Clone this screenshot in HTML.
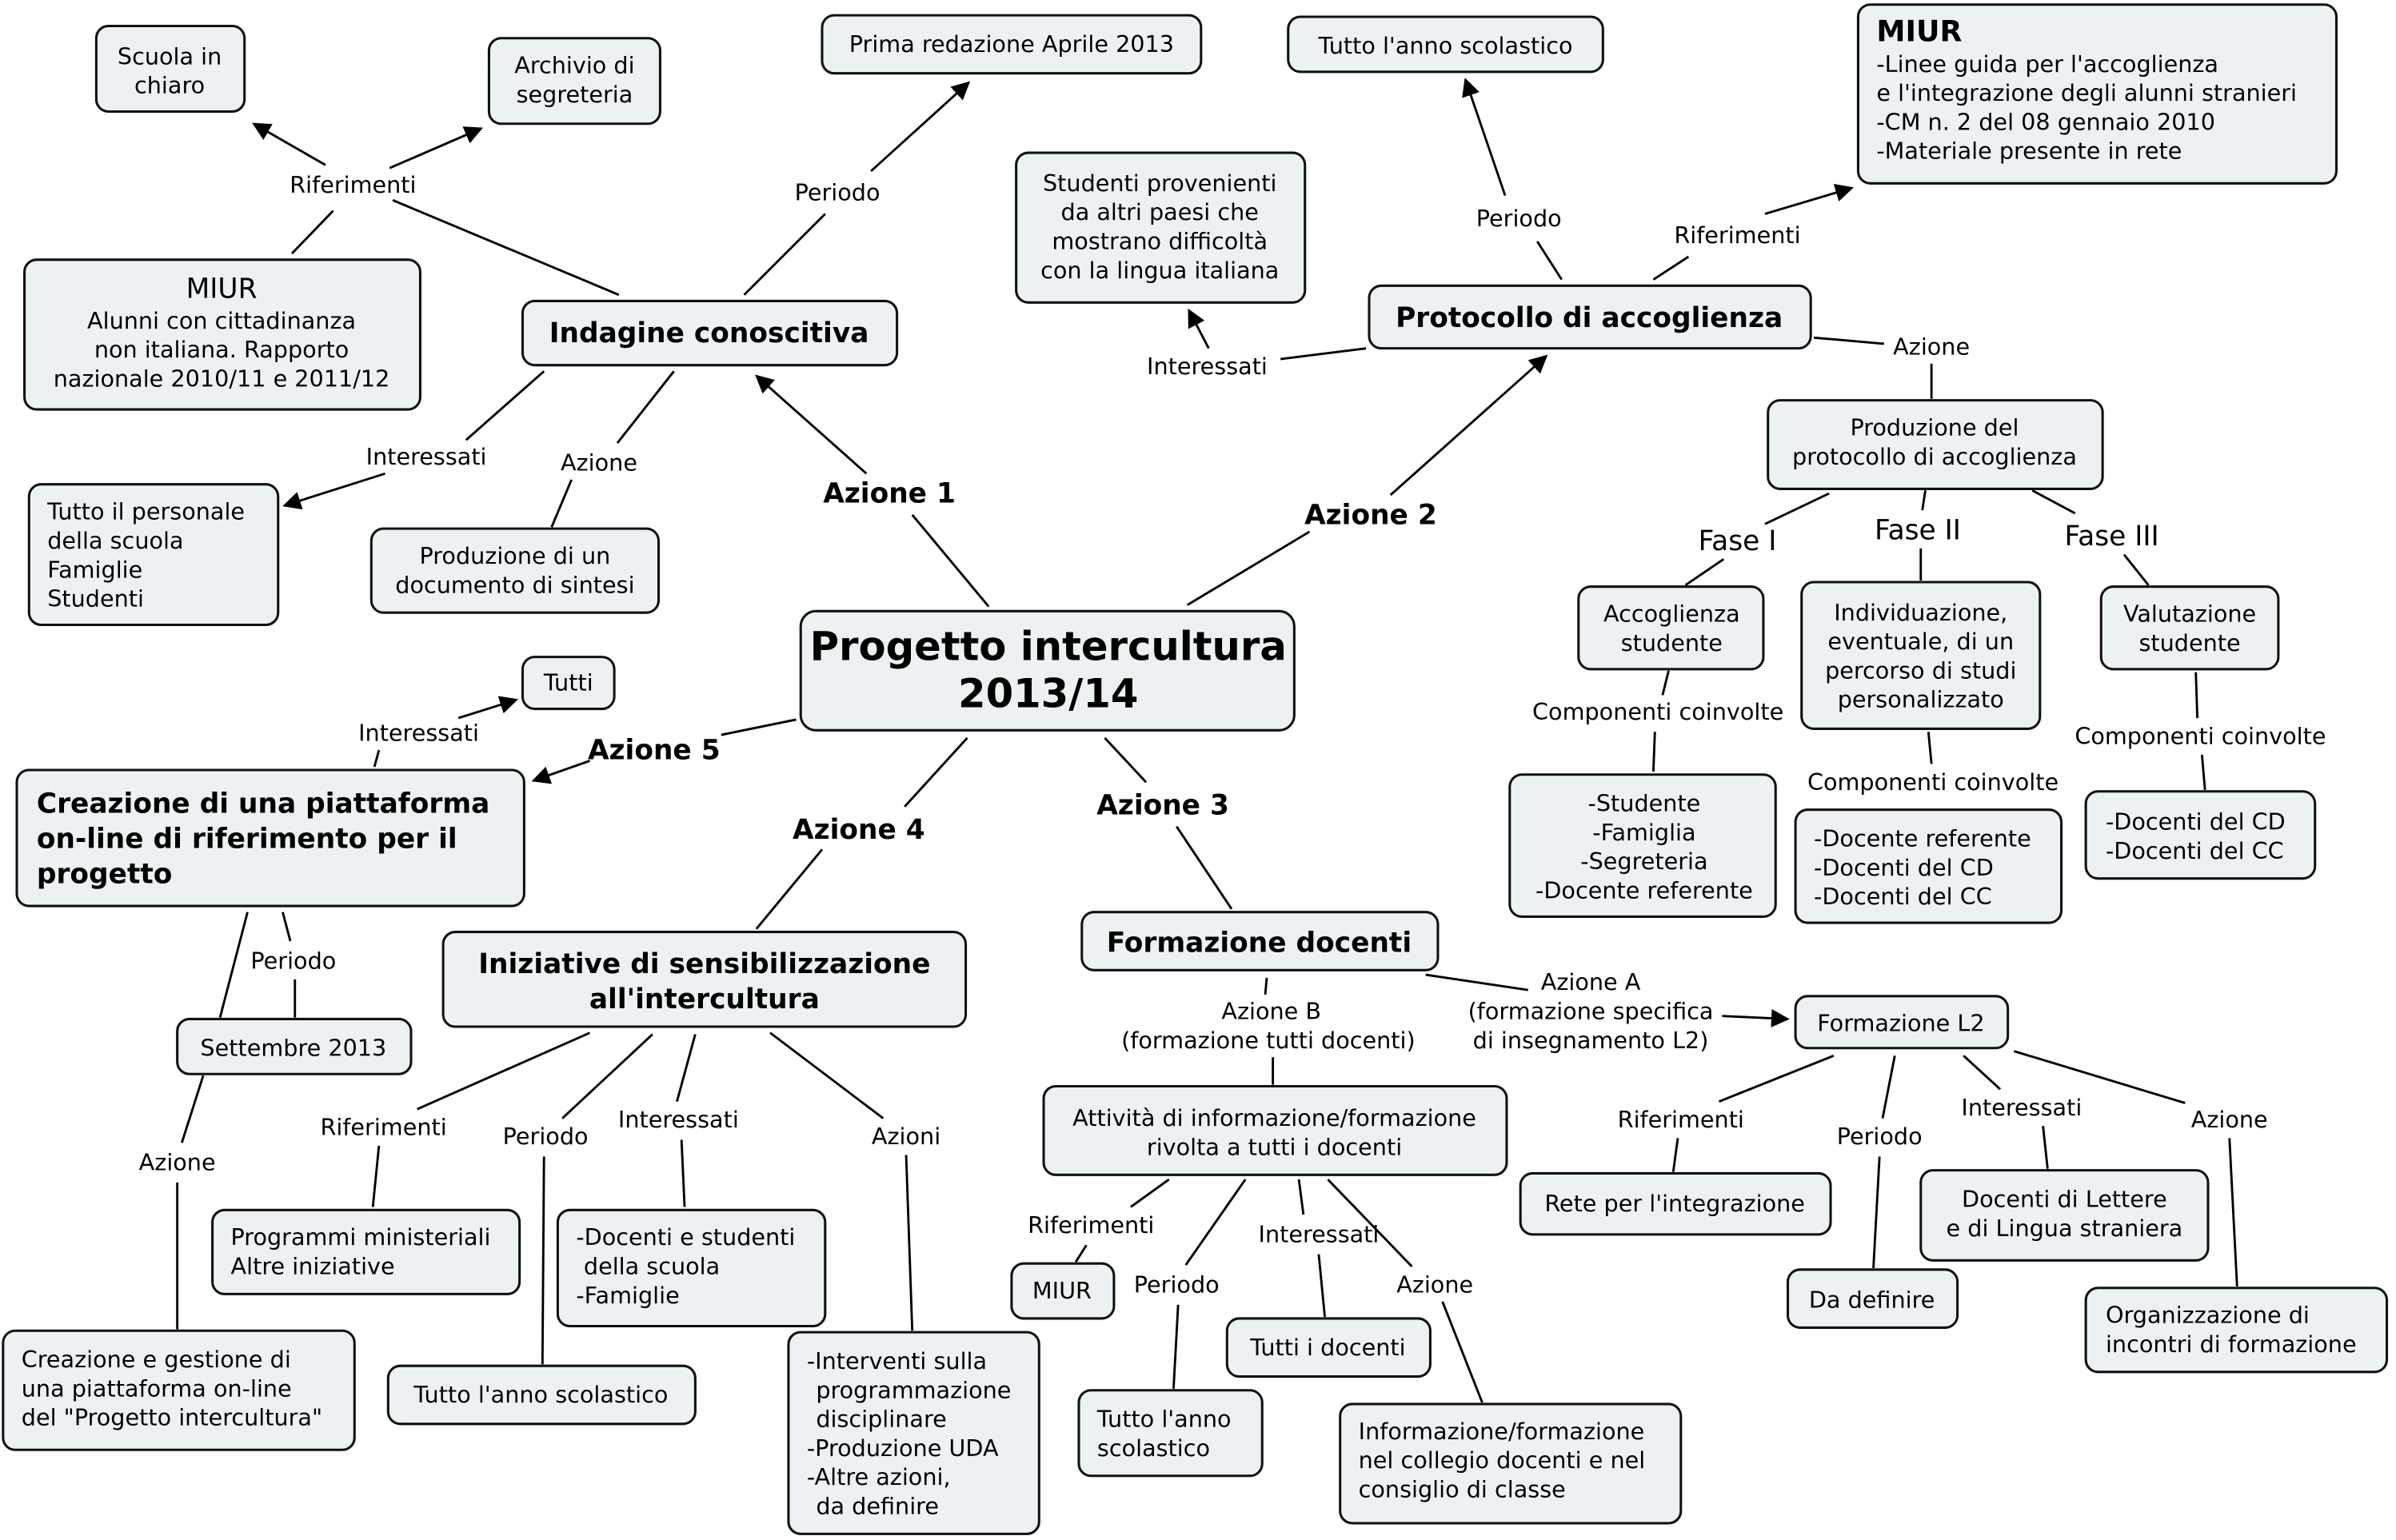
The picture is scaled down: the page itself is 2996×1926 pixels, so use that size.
<!DOCTYPE html>
<html><head><meta charset="utf-8"><style>
html,body{margin:0;padding:0;background:#fff;}
svg{display:block;}
text{font-family:"DejaVu Sans","Liberation Sans",sans-serif;font-size:15px;fill:#000;white-space:pre;}
.b{font-weight:bold;font-size:18px;}
.c{text-anchor:middle;}
rect{fill:#ecf2f4;stroke:#111;stroke-width:1.6;}
line{stroke:#000;stroke-width:1.5;}
.a{marker-end:url(#ar);}
</style></head><body>
<svg width="2996" height="1926" viewBox="0 0 1568 1008" xmlns="http://www.w3.org/2000/svg" xml:space="preserve">
<defs><marker id="ar" viewBox="0 0 10 10" refX="9" refY="5" markerWidth="12" markerHeight="12" markerUnits="userSpaceOnUse" orient="auto"><path d="M0,0L10,5L0,10z" fill="#000"/></marker></defs>
<line class="a" x1="213" y1="108" x2="166" y2="81"/>
<line class="a" x1="255" y1="110" x2="315" y2="84"/>
<line x1="218" y1="138" x2="191" y2="166"/>
<line x1="257" y1="131" x2="405" y2="193"/>
<line x1="487" y1="193" x2="540" y2="140"/>
<line class="a" x1="570" y1="112" x2="634" y2="54"/>
<line x1="1022" y1="183" x2="1006" y2="158"/>
<line class="a" x1="985" y1="128" x2="959" y2="52"/>
<line x1="1082" y1="183" x2="1105" y2="168"/>
<line class="a" x1="1155" y1="140" x2="1212" y2="123"/>
<line x1="894" y1="228" x2="838" y2="235"/>
<line class="a" x1="791" y1="228" x2="778" y2="203"/>
<line x1="1187" y1="221" x2="1233" y2="225"/>
<line x1="1264" y1="238" x2="1264" y2="261"/>
<line x1="356" y1="243" x2="305" y2="288"/>
<line class="a" x1="252" y1="310" x2="186" y2="331"/>
<line x1="441" y1="243" x2="404" y2="290"/>
<line x1="374" y1="314" x2="361" y2="345"/>
<line x1="647" y1="397" x2="597" y2="337"/>
<line class="a" x1="567" y1="310" x2="495" y2="246"/>
<line x1="777" y1="396" x2="857" y2="348"/>
<line class="a" x1="910" y1="324" x2="1012" y2="233"/>
<line x1="1197" y1="323" x2="1155" y2="343"/>
<line x1="1128" y1="366" x2="1103" y2="383"/>
<line x1="1260" y1="321" x2="1258" y2="334"/>
<line x1="1257" y1="359" x2="1257" y2="380"/>
<line x1="1330" y1="321" x2="1358" y2="336"/>
<line x1="1390" y1="363" x2="1406" y2="383"/>
<line x1="1092" y1="439" x2="1088" y2="455"/>
<line x1="1083" y1="479" x2="1082" y2="505"/>
<line x1="1262" y1="479" x2="1264" y2="500"/>
<line x1="1437" y1="440" x2="1438" y2="470"/>
<line x1="1441" y1="494" x2="1443" y2="517"/>
<line x1="521" y1="471" x2="472" y2="481"/>
<line class="a" x1="386" y1="498" x2="349" y2="511"/>
<line x1="245" y1="502" x2="248" y2="491"/>
<line class="a" x1="300" y1="470" x2="338" y2="458"/>
<line x1="633" y1="483" x2="592" y2="528"/>
<line x1="538" y1="556" x2="495" y2="608"/>
<line x1="723" y1="483" x2="750" y2="512"/>
<line x1="770" y1="541" x2="806" y2="595"/>
<line x1="185" y1="597" x2="190" y2="616"/>
<line x1="193" y1="641" x2="193" y2="666"/>
<line x1="162" y1="597" x2="144" y2="666"/>
<line x1="133" y1="704" x2="119" y2="748"/>
<line x1="116" y1="774" x2="116" y2="870"/>
<line x1="386" y1="676" x2="273" y2="726"/>
<line x1="248" y1="750" x2="244" y2="790"/>
<line x1="427" y1="677" x2="368" y2="732"/>
<line x1="356" y1="757" x2="355" y2="893"/>
<line x1="455" y1="677" x2="443" y2="721"/>
<line x1="446" y1="746" x2="448" y2="790"/>
<line x1="504" y1="676" x2="578" y2="732"/>
<line x1="593" y1="756" x2="597" y2="871"/>
<line x1="829" y1="640" x2="828" y2="651"/>
<line x1="933" y1="638" x2="1000" y2="648"/>
<line class="a" x1="1127" y1="665" x2="1170" y2="667"/>
<line x1="833" y1="692" x2="833" y2="710"/>
<line x1="1200" y1="691" x2="1125" y2="721"/>
<line x1="1098" y1="745" x2="1095" y2="767"/>
<line x1="1240" y1="691" x2="1232" y2="732"/>
<line x1="1230" y1="757" x2="1226" y2="830"/>
<line x1="1285" y1="691" x2="1309" y2="713"/>
<line x1="1337" y1="737" x2="1340" y2="765"/>
<line x1="1318" y1="688" x2="1430" y2="722"/>
<line x1="1459" y1="745" x2="1464" y2="842"/>
<line x1="765" y1="772" x2="740" y2="790"/>
<line x1="711" y1="815" x2="704" y2="826"/>
<line x1="815" y1="772" x2="776" y2="828"/>
<line x1="771" y1="854" x2="768" y2="909"/>
<line x1="850" y1="772" x2="853" y2="795"/>
<line x1="863" y1="821" x2="867" y2="862"/>
<line x1="869" y1="772" x2="924" y2="829"/>
<line x1="944" y1="852" x2="970" y2="918"/>
<rect x="63" y="17" width="97" height="56" rx="8"/>
<rect x="320" y="25" width="112" height="56" rx="8"/>
<rect x="538" y="10" width="248" height="38" rx="8"/>
<rect x="843" y="11" width="206" height="36" rx="8"/>
<rect x="1216" y="3" width="313" height="117" rx="8"/>
<rect x="665" y="100" width="189" height="98" rx="8"/>
<rect x="16" y="170" width="259" height="98" rx="8"/>
<rect x="342" y="197" width="245" height="42" rx="8"/>
<rect x="896" y="187" width="289" height="41" rx="8"/>
<rect x="1157" y="262" width="219" height="58" rx="8"/>
<rect x="19" y="317" width="163" height="92" rx="8"/>
<rect x="243" y="346" width="188" height="55" rx="8"/>
<rect x="524" y="400" width="323" height="78" rx="10"/>
<rect x="1033" y="384" width="121" height="54" rx="8"/>
<rect x="1179" y="381" width="156" height="96" rx="8"/>
<rect x="1375" y="384" width="116" height="54" rx="8"/>
<rect x="342" y="430" width="60" height="34" rx="8"/>
<rect x="11" y="504" width="332" height="89" rx="8"/>
<rect x="988" y="507" width="174" height="93" rx="8"/>
<rect x="1175" y="530" width="174" height="74" rx="8"/>
<rect x="1365" y="518" width="150" height="57" rx="8"/>
<rect x="708" y="597" width="233" height="38" rx="8"/>
<rect x="290" y="610" width="342" height="62" rx="8"/>
<rect x="1175" y="652" width="139" height="34" rx="8"/>
<rect x="116" y="667" width="153" height="36" rx="8"/>
<rect x="683" y="711" width="303" height="58" rx="8"/>
<rect x="995" y="768" width="203" height="40" rx="8"/>
<rect x="1257" y="766" width="188" height="59" rx="8"/>
<rect x="139" y="792" width="201" height="55" rx="8"/>
<rect x="365" y="792" width="175" height="76" rx="8"/>
<rect x="1170" y="831" width="111" height="38" rx="8"/>
<rect x="662" y="827" width="67" height="36" rx="8"/>
<rect x="1365" y="843" width="197" height="55" rx="8"/>
<rect x="803" y="863" width="133" height="38" rx="8"/>
<rect x="2" y="871" width="230" height="78" rx="8"/>
<rect x="254" y="894" width="201" height="38" rx="8"/>
<rect x="516" y="872" width="164" height="132" rx="8"/>
<rect x="706" y="910" width="120" height="56" rx="8"/>
<rect x="877" y="919" width="223" height="78" rx="8"/>
<text class="c" x="111" y="42">Scuola in</text><text class="c" x="111" y="61">chiaro</text>
<text class="c" x="376" y="48">Archivio di</text><text class="c" x="376" y="67">segreteria</text>
<text class="c" x="662" y="34">Prima redazione Aprile 2013</text>
<text class="c" x="946" y="35">Tutto l'anno scolastico</text>
<text x="1228" y="27" class="b" style="font-size:19px">MIUR</text>
<text x="1228" y="47">-Linee guida per l'accoglienza</text>
<text x="1228" y="66">e l'integrazione degli alunni stranieri</text>
<text x="1228" y="85">-CM n. 2 del 08 gennaio 2010</text>
<text x="1228" y="104">-Materiale presente in rete</text>
<text class="c" x="759" y="125">Studenti provenienti</text><text class="c" x="759" y="144">da altri paesi che</text><text class="c" x="759" y="163">mostrano difficoltà</text><text class="c" x="759" y="182">con la lingua italiana</text>
<text class="c" x="145" y="195" style="font-size:18px">MIUR</text>
<text class="c" x="145" y="215">Alunni con cittadinanza</text><text class="c" x="145" y="234">non italiana. Rapporto</text><text class="c" x="145" y="253">nazionale 2010/11 e 2011/12</text>
<text class="c b" x="464" y="224">Indagine conoscitiva</text>
<text class="c b" x="1040" y="214">Protocollo di accoglienza</text>
<text class="c" x="1266" y="285">Produzione del</text><text class="c" x="1266" y="304">protocollo di accoglienza</text>
<text x="31" y="340">Tutto il personale</text><text x="31" y="359">della scuola</text><text x="31" y="378">Famiglie</text><text x="31" y="397">Studenti</text>
<text class="c" x="337" y="369">Produzione di un</text><text class="c" x="337" y="388">documento di sintesi</text>
<text class="c b" x="686" y="432" style="font-size:26px">Progetto intercultura</text>
<text class="c b" x="686" y="463" style="font-size:26px">2013/14</text>
<text class="c" x="1094" y="407">Accoglienza</text><text class="c" x="1094" y="426">studente</text>
<text class="c" x="1257" y="406">Individuazione,</text><text class="c" x="1257" y="425">eventuale, di un</text><text class="c" x="1257" y="444">percorso di studi</text><text class="c" x="1257" y="463">personalizzato</text>
<text class="c" x="1433" y="407">Valutazione</text><text class="c" x="1433" y="426">studente</text>
<text class="c" x="372" y="452">Tutti</text>
<text x="24" y="532" class="b">Creazione di una piattaforma</text><text x="24" y="555" class="b">on-line di riferimento per il</text><text x="24" y="578" class="b">progetto</text>
<text class="c" x="1076" y="531">-Studente</text><text class="c" x="1076" y="550">-Famiglia</text><text class="c" x="1076" y="569">-Segreteria</text><text class="c" x="1076" y="588">-Docente referente</text>
<text x="1187" y="554">-Docente referente</text><text x="1187" y="573">-Docenti del CD</text><text x="1187" y="592">-Docenti del CC</text>
<text x="1378" y="543">-Docenti del CD</text><text x="1378" y="562">-Docenti del CC</text>
<text class="c b" x="824" y="623">Formazione docenti</text>
<text class="c b" x="461" y="637">Iniziative di sensibilizzazione</text><text class="c b" x="461" y="660">all'intercultura</text>
<text class="c" x="1244" y="675">Formazione L2</text>
<text class="c" x="192" y="691">Settembre 2013</text>
<text class="c" x="834" y="737">Attività di informazione/formazione</text><text class="c" x="834" y="756">rivolta a tutti i docenti</text>
<text class="c" x="1096" y="793">Rete per l'integrazione</text>
<text class="c" x="1351" y="790">Docenti di Lettere</text><text class="c" x="1351" y="809">e di Lingua straniera</text>
<text x="151" y="815">Programmi ministeriali</text><text x="151" y="834">Altre iniziative</text>
<text x="377" y="815">-Docenti e studenti</text><text x="382" y="834">della scuola</text><text x="377" y="853">-Famiglie</text>
<text class="c" x="1225" y="856">Da definire</text>
<text class="c" x="695" y="850">MIUR</text>
<text x="1378" y="866">Organizzazione di</text><text x="1378" y="885">incontri di formazione</text>
<text class="c" x="869" y="887">Tutti i docenti</text>
<text x="14" y="895">Creazione e gestione di</text><text x="14" y="914">una piattaforma on-line</text><text x="14" y="933">del "Progetto intercultura"</text>
<text class="c" x="354" y="918">Tutto l'anno scolastico</text>
<text x="528" y="896">-Interventi sulla</text><text x="534" y="915">programmazione</text><text x="534" y="934">disciplinare</text><text x="528" y="953">-Produzione UDA</text><text x="528" y="972">-Altre azioni,</text><text x="534" y="991">da definire</text>
<text x="718" y="934">Tutto l'anno</text><text x="718" y="953">scolastico</text>
<text x="889" y="942">Informazione/formazione</text><text x="889" y="961">nel collegio docenti e nel</text><text x="889" y="980">consiglio di classe</text>
<text class="c" x="231" y="126">Riferimenti</text>
<text class="c" x="548" y="131">Periodo</text>
<text class="c" x="994" y="148">Periodo</text>
<text class="c" x="1137" y="159">Riferimenti</text>
<text class="c" x="790" y="245">Interessati</text>
<text class="c" x="1264" y="232">Azione</text>
<text class="c" x="279" y="304">Interessati</text>
<text class="c" x="392" y="308">Azione</text>
<text class="c b" x="582" y="329">Azione 1</text>
<text class="c b" x="897" y="343">Azione 2</text>
<text class="c" x="1137" y="360" style="font-size:18px">Fase I</text>
<text class="c" x="1255" y="353" style="font-size:18px">Fase II</text>
<text class="c" x="1382" y="357" style="font-size:18px">Fase III</text>
<text class="c" x="1085" y="471">Componenti coinvolte</text>
<text class="c" x="1265" y="517">Componenti coinvolte</text>
<text class="c" x="1440" y="487">Componenti coinvolte</text>
<text class="c" x="274" y="485">Interessati</text>
<text class="c b" x="428" y="497">Azione 5</text>
<text class="c b" x="562" y="549">Azione 4</text>
<text class="c b" x="761" y="533">Azione 3</text>
<text class="c" x="192" y="634">Periodo</text>
<text class="c" x="1041" y="648">Azione A</text><text class="c" x="1041" y="667">(formazione specifica</text><text class="c" x="1041" y="686">di insegnamento L2)</text>
<text class="c" x="832" y="667">Azione B</text><text class="c" x="830" y="686">(formazione tutti docenti)</text>
<text class="c" x="116" y="766">Azione</text>
<text class="c" x="251" y="743">Riferimenti</text>
<text class="c" x="357" y="749">Periodo</text>
<text class="c" x="444" y="738">Interessati</text>
<text class="c" x="593" y="749">Azioni</text>
<text class="c" x="1100" y="738">Riferimenti</text>
<text class="c" x="1230" y="749">Periodo</text>
<text class="c" x="1323" y="730">Interessati</text>
<text class="c" x="1459" y="738">Azione</text>
<text class="c" x="714" y="807">Riferimenti</text>
<text class="c" x="770" y="846">Periodo</text>
<text class="c" x="863" y="813">Interessati</text>
<text class="c" x="939" y="846">Azione</text>
</svg>
</body></html>
